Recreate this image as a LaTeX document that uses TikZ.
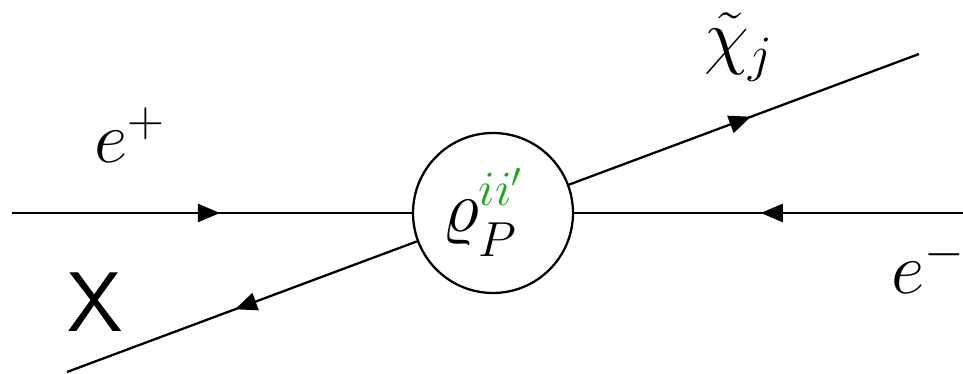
\RequirePackage{fix-cm}
\documentclass[tikz,border=0pt]{standalone}
\usetikzlibrary{arrows.meta,decorations.markings}
\definecolor{supgreen}{RGB}{24,168,24}

\tikzset{
    fermion/.style={postaction={decorate},
        decoration={markings, mark=at position 0.52 with {\arrow{Triangle[length=0.44cm, width=0.36cm]}}}},
    lbl/.style={inner sep=0pt, font=\fontsize{41.5}{50}\selectfont},
    vertex/.style={draw, circle, minimum size=3.2cm, inner sep=0pt}
}
\newcommand{\scriptpart}[1]{{\fontsize{28}{32}\selectfont$#1$}}

\begin{document}
\begin{tikzpicture}[x=0.02cm, y=-0.02cm, line width=1.3pt]
    \useasboundingbox (0,0) rectangle (963,374);

    %blob in the middle
        \node[vertex] (vtx) at (493,213) {};
        \node[lbl, anchor=base west] (rho) at (441,232)
            {$\varrho$\rlap{\raisebox{0.54cm}{\color{supgreen}\scriptpart{ii'}}}\raisebox{-0.5cm}{\scriptpart{P}}};

    %free ends of the legs
        \coordinate (ein) at (12,213);
        \coordinate (eout) at (963,213);
        \coordinate (chi) at (919,54);
        \coordinate (xend) at (67,372);

    %legs with arrows
        \draw[fermion] (ein) -- (vtx);
        \draw[fermion] (eout) -- (vtx);
        \draw[fermion] (vtx) -- (chi);
        \draw[fermion] (vtx) -- (xend);

    %particle names
        \node[lbl, anchor=base west] (eplus) at (93,163) {$e^+$};
        \node[lbl, anchor=base west] (chij) at (703,61) {$\tilde{\chi}_j$};
        \node[lbl, anchor=base west] (eminus) at (890,294) {$e^-$};
        \node[lbl, anchor=base west] (xlbl) at (66,332) {\scalebox{1.22}[1.16]{\textsf{X}}};

\end{tikzpicture}
\end{document}
